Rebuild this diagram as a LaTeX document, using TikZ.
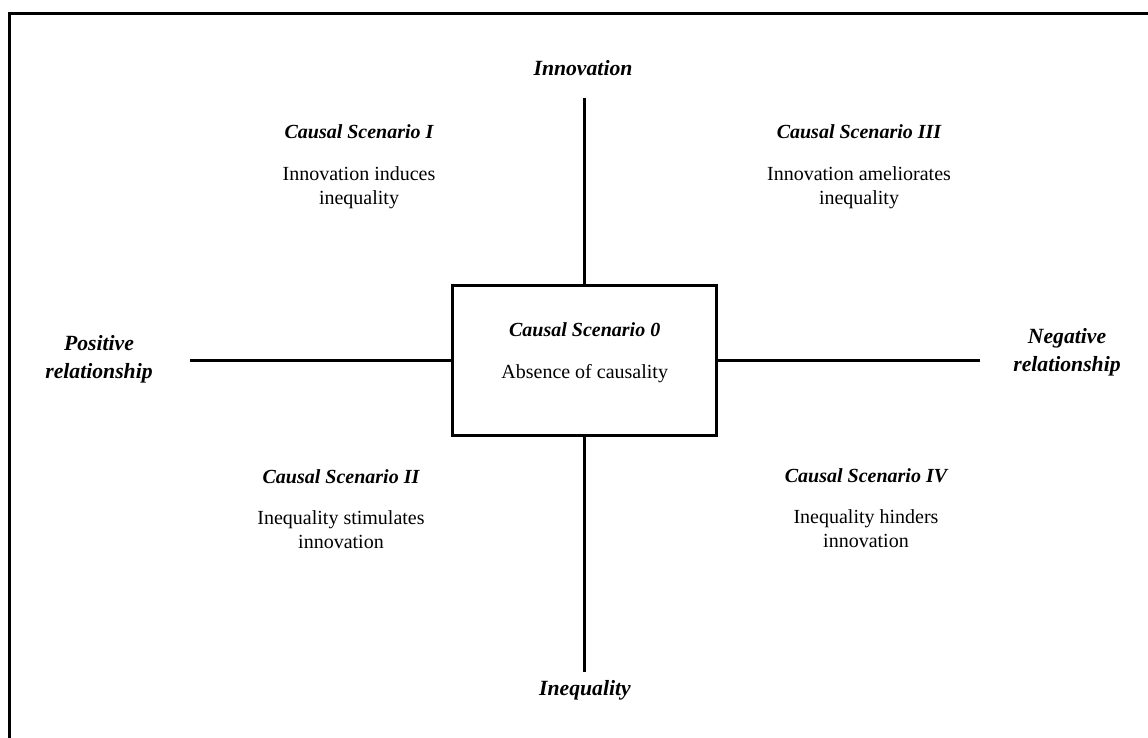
\documentclass[tikz,border=0pt]{standalone}
\usepackage{fontspec}
\setmainfont{Liberation Serif}
\newcommand{\scentitle}[1]{{\bfseries\itshape #1}}

\begin{document}
\begin{tikzpicture}[x=1pt, y=-1pt, line width=3pt,
	scen/.style={align=center, inner sep=0pt, anchor=north, font=\fontsize{20}{24}\selectfont},
	axislab/.style={align=center, inner sep=0pt, font=\fontsize{21.7}{27.6}\selectfont\bfseries\itshape},
	scenbox/.style={draw, minimum width=264pt, minimum height=150pt, inner sep=0pt}]
			\useasboundingbox (0,0) rectangle (1148,738);
			\draw (9.5,13.5) rectangle (1170,760);  % outer frame
			
			\node[scenbox] (s0) at (584.7, 360.5)  {};
			\node[scen] (s0txt) at (584.7, 321.3)  {\scentitle{Causal Scenario 0}\\[18pt]Absence of causality};
			
			\node[axislab, anchor=base] (innov) at (583, 76)  {Innovation};
			\node[axislab, anchor=base] (ineq) at (585, 695)  {Inequality};
			\node[axislab, anchor=north] (pos) at (99, 334.4)  {Positive\\relationship};
			\node[axislab, anchor=north] (neg) at (1067, 327)  {Negative\\relationship};
			
			\coordinate (t) at (584.7, 98);
			\coordinate (b) at (584.7, 672);
			\coordinate (l) at (190, 360.5);
			\coordinate (r) at (980, 360.5);
			
			\def\axes {t/s0.north, s0.south/b, l/s0.west, s0.east/r}  % axis lines
			\foreach \u\v in \axes
			{	\draw (\u) -- (\v);}
			
			\node[scen] (s1) at (359, 123.6)  {\scentitle{Causal Scenario I}\\[17.5pt]Innovation induces\\inequality};
			\node[scen] (s3) at (859, 123.6)  {\scentitle{Causal Scenario III}\\[17.5pt]Innovation ameliorates\\inequality};
			\node[scen] (s2) at (341, 468)  {\scentitle{Causal Scenario II}\\[17.5pt]Inequality stimulates\\innovation};
			\node[scen] (s4) at (866, 467)  {\scentitle{Causal Scenario IV}\\[17.5pt]Inequality hinders\\innovation};
		\end{tikzpicture}
\end{document}
